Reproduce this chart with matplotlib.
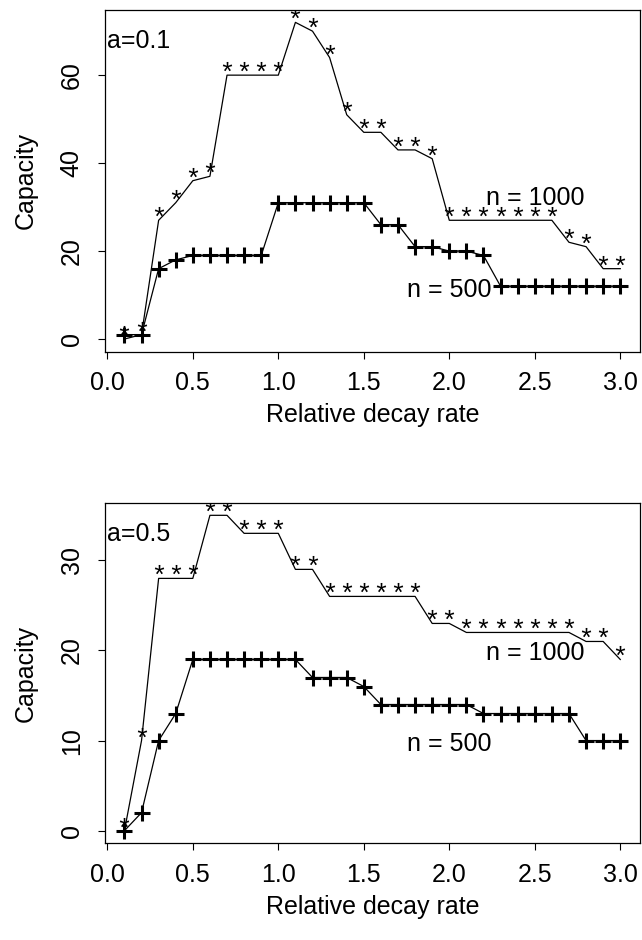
import numpy as np
import matplotlib
matplotlib.use("Agg")
import matplotlib.pyplot as plt
from matplotlib.textpath import TextPath
from matplotlib.font_manager import FontProperties
from matplotlib.path import Path
from matplotlib.markers import MarkerStyle

plt.rcParams['font.family'] = ['Liberation Sans', 'DejaVu Sans']

# ---------------- data ----------------
decay_rate = [0.1, 0.2, 0.3, 0.4, 0.5, 0.6, 0.7, 0.8, 0.9, 1.0,
              1.1, 1.2, 1.3, 1.4, 1.5, 1.6, 1.7, 1.8, 1.9, 2.0,
              2.1, 2.2, 2.3, 2.4, 2.5, 2.6, 2.7, 2.8, 2.9, 3.0]

# a = 0.1
cap_a01_n1000 = [0, 1, 27, 31, 36, 37, 60, 60, 60, 60,
                 72, 70, 64, 51, 47, 47, 43, 43, 41, 27,
                 27, 27, 27, 27, 27, 27, 22, 21, 16, 16]
cap_a01_n500 = [1, 1, 16, 18, 19, 19, 19, 19, 19, 31,
                31, 31, 31, 31, 31, 26, 26, 21, 21, 20,
                20, 19, 12, 12, 12, 12, 12, 12, 12, 12]

# a = 0.5
cap_a05_n1000 = [0, 10, 28, 28, 28, 35, 35, 33, 33, 33,
                 29, 29, 26, 26, 26, 26, 26, 26, 23, 23,
                 22, 22, 22, 22, 22, 22, 22, 21, 21, 19]
cap_a05_n500 = [0, 2, 10, 13, 19, 19, 19, 19, 19, 19,
                19, 17, 17, 17, 16, 14, 14, 14, 14, 14,
                14, 13, 13, 13, 13, 13, 13, 10, 10, 10]

x_ticks = [0.0, 0.5, 1.0, 1.5, 2.0, 2.5, 3.0]
x_tick_labels = ["0.0", "0.5", "1.0", "1.5", "2.0", "2.5", "3.0"]
y_ticks_top = [0, 20, 40, 60]
y_ticks_bottom = [0, 10, 20, 30]
panel_labels = ["a=0.1", "a=0.5"]
series_labels = ["n = 1000", "n = 500"]
x_label = "Relative decay rate"
y_label = "Capacity"

# ---------------- style ----------------
FS = 18  # 25 px at dpi 100
DPI = 100
W, H = 642, 940

# asterisk marker built from the font glyph, drawn above the point like R's pch="*"
fp = FontProperties(family='Liberation Sans')
tp = TextPath((0, 0), '*', size=1, prop=fp)
verts = tp.vertices.copy()
codes = tp.codes.copy()
start = None
for i, c in enumerate(codes):
    if c == Path.MOVETO:
        start = verts[i].copy()
    elif c == Path.CLOSEPOLY and start is not None:
        verts[i] = start
real = verts[codes != Path.CLOSEPOLY]
cx = (real[:, 0].min() + real[:, 0].max()) / 2
cy = (real[:, 1].min() + real[:, 1].max()) / 2
offset_em = 8.5 / 25.0
verts[:, 0] -= cx
verts[:, 1] += offset_em - cy
star_path = Path(verts, codes)
M = np.abs(verts).max()
star_ms = 2 * M * FS * 1.05
star_marker = MarkerStyle(star_path)


def r_lim(vals):
    lo, hi = min(vals), max(vals)
    d = 0.04 * (hi - lo)
    return lo - d, hi + d


fig = plt.figure(figsize=(W / DPI, H / DPI), dpi=DPI)

left_px, right_px = 104.6, 640.1
panels = [
    (9.7, 351.7, cap_a01_n1000, cap_a01_n500, y_ticks_top, panel_labels[0],
     (2.5, 30.5), (2.0, 9.45)),
    (502.7, 843.3, cap_a05_n1000, cap_a05_n500, y_ticks_bottom, panel_labels[1],
     (2.5, 18.9), (2.0, 8.8)),
]

for top_px, bot_px, y1000, y500, yt, plab, pos1000, pos500 in panels:
    ax = fig.add_axes([left_px / W, 1 - bot_px / H,
                       (right_px - left_px) / W, (bot_px - top_px) / H])
    ax.plot(decay_rate, y1000, color='black', lw=0.9)
    ax.plot(decay_rate, y1000, ls='none', marker=star_marker, ms=star_ms,
            mfc='black', mec='black', mew=0)
    ax.plot(decay_rate, y500, color='black', lw=0.9, marker='+', ms=11,
            mew=2.2, mec='black')

    ax.set_xlim(r_lim(decay_rate))
    ax.set_ylim(r_lim(y1000 + y500))
    ax.set_xticks(x_ticks)
    ax.set_xticklabels(x_tick_labels)
    ax.set_yticks(yt)
    ax.set_yticklabels([str(v) for v in yt], rotation=90, va='center')
    ax.tick_params(axis='both', direction='out', length=5, width=0.8,
                   labelsize=FS, color='black')
    ax.tick_params(axis='x', pad=9)
    ax.tick_params(axis='y', pad=10)
    for sp in ax.spines.values():
        sp.set_linewidth(0.9)
        sp.set_color('black')

    ax.set_xlabel(x_label, fontsize=FS, labelpad=6)
    ax.set_ylabel(y_label, fontsize=FS, labelpad=16)

    ax.text(0.005, 0.889, plab, transform=ax.transAxes, ha='left',
            va='baseline', fontsize=FS)
    ax.text(pos1000[0], pos1000[1], series_labels[0], ha='center',
            va='baseline', fontsize=FS)
    ax.text(pos500[0], pos500[1], series_labels[1], ha='center',
            va='baseline', fontsize=FS)

fig.savefig('out.png', dpi=DPI)
